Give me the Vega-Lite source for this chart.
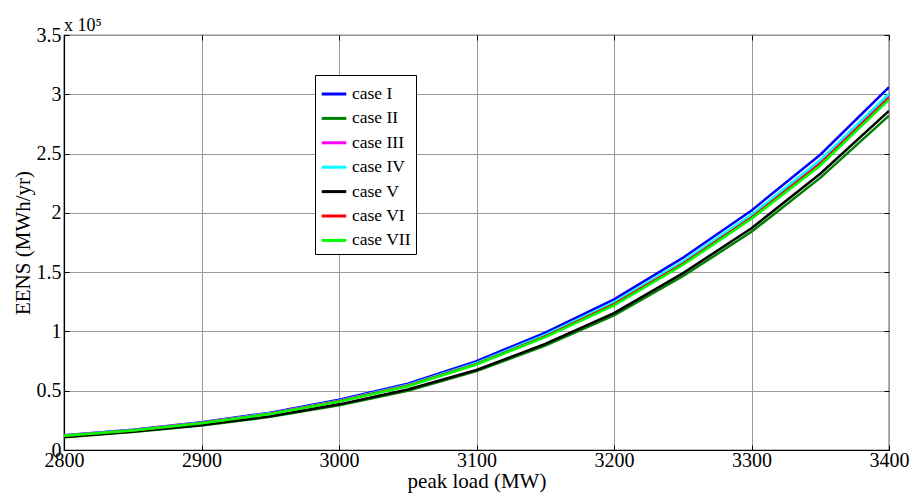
{
  "$schema": "https://vega.github.io/schema/vega-lite/v6.json",
  "autosize": "none",
  "padding": {"left": 64, "top": 35, "right": 20, "bottom": 45},
  "width": 825,
  "height": 415,
  "background": "white",
  "title": {"text": "x 10⁵", "anchor": "start", "frame": "group", "font": "Liberation Serif", "fontSize": 18, "fontWeight": "normal", "color": "black", "offset": 2, "dy": 12},
  "config": {
    "view": {"stroke": "black", "strokeWidth": 1.2},
    "font": "Liberation Serif"
  },
  "data": {"values": [
    {"load": 2800, "case": "case I", "eens": 12500}, {"load": 2850, "case": "case I", "eens": 17000}, {"load": 2900, "case": "case I", "eens": 23500}, {"load": 2950, "case": "case I", "eens": 31500}, {"load": 3000, "case": "case I", "eens": 42500}, {"load": 3050, "case": "case I", "eens": 56000}, {"load": 3100, "case": "case I", "eens": 75000}, {"load": 3150, "case": "case I", "eens": 99000}, {"load": 3200, "case": "case I", "eens": 127000}, {"load": 3250, "case": "case I", "eens": 162000}, {"load": 3300, "case": "case I", "eens": 202000}, {"load": 3350, "case": "case I", "eens": 249000}, {"load": 3400, "case": "case I", "eens": 306000},
    {"load": 2800, "case": "case II", "eens": 10800}, {"load": 2850, "case": "case II", "eens": 15200}, {"load": 2900, "case": "case II", "eens": 20600}, {"load": 2950, "case": "case II", "eens": 28000}, {"load": 3000, "case": "case II", "eens": 37800}, {"load": 3050, "case": "case II", "eens": 50000}, {"load": 3100, "case": "case II", "eens": 66500}, {"load": 3150, "case": "case II", "eens": 88000}, {"load": 3200, "case": "case II", "eens": 113500}, {"load": 3250, "case": "case II", "eens": 146500}, {"load": 3300, "case": "case II", "eens": 184000}, {"load": 3350, "case": "case II", "eens": 229500}, {"load": 3400, "case": "case II", "eens": 282000},
    {"load": 2800, "case": "case III", "eens": 12200}, {"load": 2850, "case": "case III", "eens": 16600}, {"load": 2900, "case": "case III", "eens": 22900}, {"load": 2950, "case": "case III", "eens": 30700}, {"load": 3000, "case": "case III", "eens": 41400}, {"load": 3050, "case": "case III", "eens": 54600}, {"load": 3100, "case": "case III", "eens": 73100}, {"load": 3150, "case": "case III", "eens": 96500}, {"load": 3200, "case": "case III", "eens": 123800}, {"load": 3250, "case": "case III", "eens": 158000}, {"load": 3300, "case": "case III", "eens": 197500}, {"load": 3350, "case": "case III", "eens": 243000}, {"load": 3400, "case": "case III", "eens": 299000},
    {"load": 2800, "case": "case IV", "eens": 12300}, {"load": 2850, "case": "case IV", "eens": 16700}, {"load": 2900, "case": "case IV", "eens": 23000}, {"load": 2950, "case": "case IV", "eens": 30900}, {"load": 3000, "case": "case IV", "eens": 41600}, {"load": 3050, "case": "case IV", "eens": 54900}, {"load": 3100, "case": "case IV", "eens": 73500}, {"load": 3150, "case": "case IV", "eens": 97000}, {"load": 3200, "case": "case IV", "eens": 124500}, {"load": 3250, "case": "case IV", "eens": 159000}, {"load": 3300, "case": "case IV", "eens": 198500}, {"load": 3350, "case": "case IV", "eens": 244500}, {"load": 3400, "case": "case IV", "eens": 300500},
    {"load": 2800, "case": "case V", "eens": 11000}, {"load": 2850, "case": "case V", "eens": 15500}, {"load": 2900, "case": "case V", "eens": 21000}, {"load": 2950, "case": "case V", "eens": 28500}, {"load": 3000, "case": "case V", "eens": 38500}, {"load": 3050, "case": "case V", "eens": 51000}, {"load": 3100, "case": "case V", "eens": 67500}, {"load": 3150, "case": "case V", "eens": 89500}, {"load": 3200, "case": "case V", "eens": 115500}, {"load": 3250, "case": "case V", "eens": 149000}, {"load": 3300, "case": "case V", "eens": 187000}, {"load": 3350, "case": "case V", "eens": 233000}, {"load": 3400, "case": "case V", "eens": 286000},
    {"load": 2800, "case": "case VI", "eens": 12100}, {"load": 2850, "case": "case VI", "eens": 16500}, {"load": 2900, "case": "case VI", "eens": 22700}, {"load": 2950, "case": "case VI", "eens": 30500}, {"load": 3000, "case": "case VI", "eens": 41100}, {"load": 3050, "case": "case VI", "eens": 54200}, {"load": 3100, "case": "case VI", "eens": 72600}, {"load": 3150, "case": "case VI", "eens": 95800}, {"load": 3200, "case": "case VI", "eens": 123000}, {"load": 3250, "case": "case VI", "eens": 157000}, {"load": 3300, "case": "case VI", "eens": 196000}, {"load": 3350, "case": "case VI", "eens": 241500}, {"load": 3400, "case": "case VI", "eens": 297000},
    {"load": 2800, "case": "case VII", "eens": 12000}, {"load": 2850, "case": "case VII", "eens": 16400}, {"load": 2900, "case": "case VII", "eens": 22500}, {"load": 2950, "case": "case VII", "eens": 30300}, {"load": 3000, "case": "case VII", "eens": 40800}, {"load": 3050, "case": "case VII", "eens": 53800}, {"load": 3100, "case": "case VII", "eens": 72100}, {"load": 3150, "case": "case VII", "eens": 95200}, {"load": 3200, "case": "case VII", "eens": 122000}, {"load": 3250, "case": "case VII", "eens": 156000}, {"load": 3300, "case": "case VII", "eens": 195000}, {"load": 3350, "case": "case VII", "eens": 240000}, {"load": 3400, "case": "case VII", "eens": 295500}
  ]},
  "layer": [
    {
      "mark": {"type": "line", "strokeWidth": 2.5, "clip": true},
      "encoding": {
        "x": {"field": "load", "type": "quantitative", "scale": {"domain": [2800, 3400], "nice": false, "zero": false},
          "axis": {"title": "peak load (MW)", "values": [2800, 2900, 3000, 3100, 3200, 3300, 3400], "format": "d", "grid": true, "gridColor": "#999999", "gridWidth": 1, "gridOpacity": 1, "domainColor": "black", "domainWidth": 1.2, "tickColor": "black", "tickSize": -5, "labelPadding": 5, "labelFont": "Liberation Serif", "labelFontSize": 20, "labelColor": "black", "titleFont": "Liberation Serif", "titleFontSize": 21, "titleFontWeight": "normal", "titleColor": "black", "titlePadding": 0, "labelFlush": false}},
        "y": {"field": "eens", "type": "quantitative", "scale": {"domain": [0, 350000], "nice": false},
          "axis": {"title": "EENS (MWh/yr)", "values": [0, 50000, 100000, 150000, 200000, 250000, 300000, 350000], "labelExpr": "datum.value / 100000", "grid": true, "gridColor": "#999999", "gridWidth": 1, "gridOpacity": 1, "domainColor": "black", "domainWidth": 1.2, "tickColor": "black", "tickSize": -5, "labelPadding": 8, "labelFont": "Liberation Serif", "labelFontSize": 20, "labelColor": "black", "labelBaseline": "middle", "titleFont": "Liberation Serif", "titleFontSize": 21, "titleFontWeight": "normal", "titleColor": "black", "titlePadding": 3}},
        "color": {"field": "case", "type": "nominal",
          "scale": {"domain": ["case I", "case II", "case III", "case IV", "case V", "case VI", "case VII"], "range": ["#0000FF", "#008000", "#FF00FF", "#00FFFF", "#000000", "#FF0000", "#00FF00"]},
          "legend": {"title": null, "orient": "none", "legendX": 251, "legendY": 40, "symbolType": "stroke", "symbolStrokeWidth": 3, "symbolSize": 600, "labelFont": "Liberation Serif", "labelFontSize": 17.5, "labelColor": "black", "labelOffset": 4, "rowPadding": 1.4, "padding": 5, "strokeColor": "black", "fillColor": "white", "labelLimit": 200}}
      }
    },
    {
      "mark": {"type": "line", "opacity": 0},
      "encoding": {
        "x": {"field": "load", "type": "quantitative", "scale": {"domain": [2800, 3400], "nice": false, "zero": false},
          "axis": {"orient": "top", "title": null, "labels": false, "values": [2800, 2900, 3000, 3100, 3200, 3300, 3400], "grid": false, "domain": false, "tickColor": "black", "tickSize": -5}},
        "y": {"field": "eens", "type": "quantitative", "scale": {"domain": [0, 350000], "nice": false},
          "axis": {"orient": "right", "title": null, "labels": false, "values": [0, 50000, 100000, 150000, 200000, 250000, 300000, 350000], "grid": false, "domain": false, "tickColor": "black", "tickSize": -5}}
      }
    }
  ],
  "resolve": {"axis": {"x": "independent", "y": "independent"}}
}
